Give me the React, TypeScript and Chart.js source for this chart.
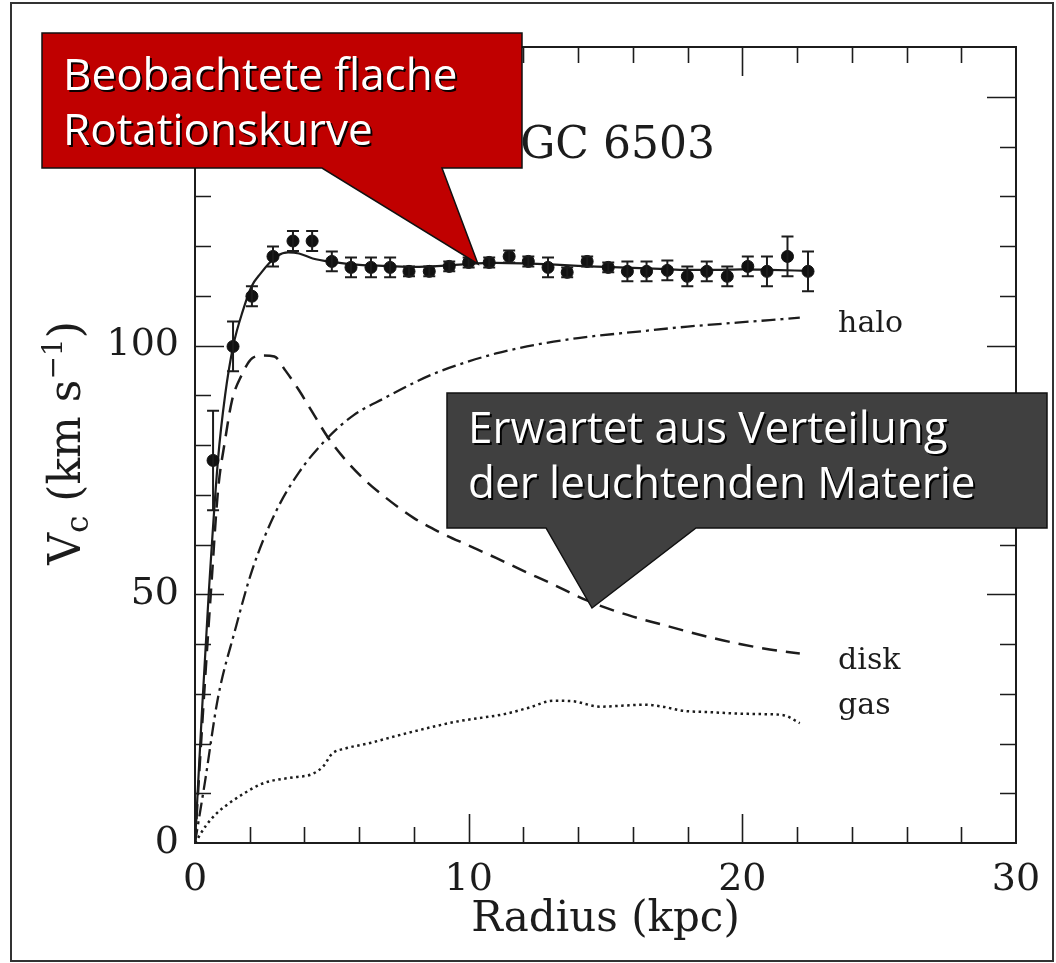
import React, { useEffect, useRef } from "react";
import { Chart, registerables } from "chart.js";

Chart.register(...registerables);

// ---- data ----
const obsRadius = [0.66, 1.39, 2.08, 2.85, 3.58, 4.28, 5.0, 5.7, 6.43, 7.13, 7.82, 8.56, 9.29, 10.0, 10.75, 11.48, 12.18, 12.9, 13.6, 14.33, 15.1, 15.8, 16.5, 17.26, 17.99, 18.7, 19.45, 20.2, 20.9, 21.65, 22.4];
const obsVc = [76.9, 99.8, 109.9, 117.9, 121.0, 121.0, 116.9, 115.7, 115.7, 115.7, 114.9, 114.9, 115.9, 116.7, 116.7, 117.9, 116.9, 115.7, 114.7, 116.9, 115.7, 114.9, 114.9, 115.1, 113.9, 114.9, 113.9, 115.9, 114.9, 117.9, 114.9];
const obsErr = [10, 5, 2, 2, 2, 2, 2, 2, 2, 2, 1, 1, 1, 1, 1, 1.2, 1, 2, 1, 1, 1, 2, 2, 2, 2, 2, 2, 2, 3, 4, 4];

const fitRadius = [0, 0.25, 0.5, 0.84, 1.1, 1.4, 1.75, 2.08, 2.4, 2.7, 3.0, 3.4, 3.8, 4.3, 5.0, 6.0, 7.0, 8.0, 9.0, 10.0, 11.0, 12.0, 13.0, 14.0, 15.0, 16.0, 17.0, 18.0, 19.0, 20.0, 21.0, 22.4];
const fitVc = [0, 26, 50, 77, 90, 100, 107, 112, 114.5, 116.5, 118, 118.7, 118.5, 117.5, 116.8, 116.2, 116, 115.8, 116, 116.4, 116.6, 116.5, 116.3, 116, 115.8, 115.6, 115.4, 115.2, 115.2, 115.3, 115.2, 115];

const diskRadius = [0, 0.3, 0.6, 0.84, 1.1, 1.35, 1.7, 2.1, 2.5, 2.9, 3.3, 3.8, 4.3, 4.86, 5.5, 6.2, 6.95, 8, 9, 10, 11, 12, 13, 14.3, 15, 16, 17, 18, 19, 20, 21, 22.1];
const diskVc = [0, 27, 52, 70.8, 81, 88.9, 94, 97.5, 98, 97.8, 95, 91, 86.5, 81.5, 77, 73, 69.5, 65.3, 62.3, 59.8, 57.3, 54.7, 52.2, 48.8, 47.3, 45.5, 44, 42.5, 41.1, 39.9, 38.9, 38.1];

const haloRadius = [0, 0.37, 0.84, 1.46, 2.08, 2.92, 3.8, 4.86, 5.8, 6.95, 8, 8.85, 10, 11, 12.5, 14, 16.2, 18, 19.8, 21, 22.1];
const haloVc = [0, 12.5, 29.2, 42.7, 54.7, 66.2, 74.5, 81.5, 86, 89.5, 92.5, 94.6, 96.8, 98.4, 100.2, 101.5, 102.8, 103.8, 104.6, 105.1, 105.6];

const gasRadius = [0, 0.4, 0.8, 1.2, 1.8, 2.4, 2.8, 3.6, 4.3, 4.7, 5.0, 5.5, 6.4, 7.2, 8.05, 8.8, 9.65, 10.5, 11.3, 12.2, 13.1, 13.8, 14.8, 15.6, 16.4, 17.1, 17.8, 18.8, 19.9, 20.8, 21.5, 22.1];
const gasVc = [0, 3.5, 6, 7.8, 10, 11.8, 12.5, 13.2, 13.9, 15.5, 17.9, 19, 20.1, 21.3, 22.5, 23.5, 24.5, 25.2, 25.9, 27.2, 28.6, 28.5, 27.4, 27.6, 27.8, 27.4, 26.6, 26.3, 26.0, 25.9, 25.7, 24.1];

const xTickValues = [0, 10, 20, 30];
const yTickValues = [0, 50, 100, 150];
const curveLabels = ["halo", "disk", "gas"];
const curveLabelAnchors = [
  [23.5, 102.8],
  [23.5, 35],
  [23.5, 26],
];
const plotTitle = "NGC 6503";
const xTitle = "Radius (kpc)";
const calloutTopLines = ["Beobachtete flache", "Rotationskurve"];
const calloutBottomLines = ["Erwartet aus Verteilung", "der leuchtenden Materie"];

const INK = "#1c1c1c";
const SERIF = "'DejaVu Serif', serif";

const pts = (xs: number[], ys: number[]) => xs.map((x, i) => ({ x, y: ys[i] }));

export default function App() {
  const ref = useRef<HTMLCanvasElement>(null);

  useEffect(() => {
    const canvas = ref.current!;

    const framePlugin = {
      id: "frameTicks",
      beforeDraw(chart: any) {
        const ctx = chart.ctx;
        ctx.save();
        ctx.fillStyle = "#ffffff";
        ctx.fillRect(0, 0, chart.width, chart.height);
        ctx.restore();
      },
      beforeDatasetsDraw(chart: any) {
        const { ctx, chartArea: a, scales } = chart;
        const xs = scales.x;
        const ys = scales.y;
        ctx.save();
        ctx.strokeStyle = INK;
        ctx.lineWidth = 2;
        ctx.strokeRect(a.left, a.top, a.right - a.left, a.bottom - a.top);
        ctx.lineWidth = 1.6;
        ctx.beginPath();
        for (let v = 2; v < 30; v += 2) {
          const px = Math.round(xs.getPixelForValue(v)) + 0.5;
          const len = v % 10 === 0 ? 29 : 16;
          ctx.moveTo(px, a.bottom);
          ctx.lineTo(px, a.bottom - len);
          ctx.moveTo(px, a.top);
          ctx.lineTo(px, a.top + len);
        }
        for (let v = 10; v < 160; v += 10) {
          const py = Math.round(ys.getPixelForValue(v)) + 0.5;
          const len = v % 50 === 0 ? 29 : 16;
          ctx.moveTo(a.left, py);
          ctx.lineTo(a.left + len, py);
          ctx.moveTo(a.right, py);
          ctx.lineTo(a.right - len, py);
        }
        ctx.stroke();

        // title inside plot
        ctx.fillStyle = INK;
        ctx.font = `44px ${SERIF}`;
        ctx.textAlign = "right";
        ctx.textBaseline = "alphabetic";
        ctx.fillText(plotTitle, 715, 158);

        // curve labels
        ctx.font = `30px ${SERIF}`;
        ctx.textAlign = "left";
        curveLabels.forEach((t, i) => {
          const [vx, vy] = curveLabelAnchors[i];
          ctx.fillText(t, xs.getPixelForValue(vx), ys.getPixelForValue(vy));
        });
        ctx.restore();
      },
      afterDatasetsDraw(chart: any) {
        const { ctx, scales } = chart;
        const xs = scales.x;
        const ys = scales.y;
        ctx.save();
        ctx.strokeStyle = INK;
        ctx.lineWidth = 2;
        ctx.beginPath();
        obsRadius.forEach((r, i) => {
          const px = xs.getPixelForValue(r);
          const top = ys.getPixelForValue(obsVc[i] + obsErr[i]);
          const bot = ys.getPixelForValue(obsVc[i] - obsErr[i]);
          ctx.moveTo(px, top);
          ctx.lineTo(px, bot);
          ctx.moveTo(px - 6, top);
          ctx.lineTo(px + 6, top);
          ctx.moveTo(px - 6, bot);
          ctx.lineTo(px + 6, bot);
        });
        ctx.stroke();
        ctx.restore();
      },
      afterDraw(chart: any) {
        const ctx = chart.ctx;
        ctx.save();
        // y axis title with subscript / superscript
        ctx.translate(80, 443);
        ctx.rotate(-Math.PI / 2);
        ctx.fillStyle = INK;
        ctx.textBaseline = "alphabetic";
        ctx.textAlign = "left";
        const parts: [string, number, number][] = [
          ["V", 44, 0],
          ["c", 31, 8],
          [" (km s", 44, 0],
          ["\u22121", 28, -18],
          [")", 44, 0],
        ];
        let total = 0;
        parts.forEach(([t, s]) => {
          ctx.font = `${s}px ${SERIF}`;
          total += ctx.measureText(t).width;
        });
        let cx = -total / 2;
        parts.forEach(([t, s, dy]) => {
          ctx.font = `${s}px ${SERIF}`;
          ctx.fillText(t, cx, dy);
          cx += ctx.measureText(t).width;
        });
        ctx.restore();

        const callout = (
          L: number, T: number, R: number, B: number,
          b1: number, b2: number, tx: number, ty: number,
          fill: string, lines: string[], textX: number, base0: number
        ) => {
          ctx.save();
          ctx.beginPath();
          ctx.moveTo(L, T);
          ctx.lineTo(R, T);
          ctx.lineTo(R, B);
          ctx.lineTo(b2, B);
          ctx.lineTo(tx, ty);
          ctx.lineTo(b1, B);
          ctx.lineTo(L, B);
          ctx.closePath();
          ctx.fillStyle = fill;
          ctx.fill();
          ctx.strokeStyle = "#111";
          ctx.lineWidth = 1.5;
          ctx.stroke();
          ctx.font = "44px 'Open Sans', sans-serif";
          ctx.textAlign = "left";
          ctx.textBaseline = "alphabetic";
          ctx.shadowColor = "rgba(0,0,0,0.95)";
          ctx.shadowOffsetX = 2;
          ctx.shadowOffsetY = 2;
          ctx.shadowBlur = 0;
          ctx.fillStyle = "#ffffff";
          lines.forEach((ln, i) => ctx.fillText(ln, textX, base0 + i * 55));
          ctx.restore();
        };
        callout(42, 33, 522, 168, 322, 442, 478, 264, "#c00000", calloutTopLines, 63, 90);
        callout(447, 393, 1047, 528, 546, 696, 592, 608, "#404040", calloutBottomLines, 468, 443);

        // outer frame
        ctx.save();
        ctx.strokeStyle = "#333";
        ctx.lineWidth = 2;
        ctx.strokeRect(11, 3, 1042, 958);
        ctx.restore();
      },
    };

    const line = (d: { x: number; y: number }[], dash: number[], width: number) => ({
      data: d,
      showLine: true,
      pointRadius: 0,
      borderColor: INK,
      borderWidth: width,
      borderDash: dash,
      cubicInterpolationMode: "monotone" as const,
      fill: false,
    });

    const chart = new Chart(canvas, {
      type: "scatter",
      data: {
        datasets: [
          {
            label: "observed",
            data: pts(obsRadius, obsVc),
            pointRadius: 6,
            pointBackgroundColor: "#111",
            pointBorderColor: "#111",
            showLine: false,
          } as any,
          { label: "fit", ...line(pts(fitRadius, fitVc), [], 2.2) },
          { label: "disk", ...line(pts(diskRadius, diskVc), [15, 9], 2.5) },
          { label: "halo", ...line(pts(haloRadius, haloVc), [14, 5, 3, 5], 2.3) },
          { label: "gas", ...line(pts(gasRadius, gasVc), [2.5, 3.5], 2.5) },
        ],
      },
      options: {
        responsive: false,
        animation: false,
        devicePixelRatio: 1,
        events: [],
        layout: { padding: { top: 47, right: 40, left: 0, bottom: 0 } },
        plugins: { legend: { display: false }, tooltip: { enabled: false } },
        scales: {
          x: {
            type: "linear",
            min: 0,
            max: 30,
            grid: { display: false, drawTicks: false },
            border: { display: false },
            afterBuildTicks: (s: any) => {
              s.ticks = xTickValues.map((v) => ({ value: v }));
            },
            ticks: {
              font: { family: SERIF, size: 38 },
              color: INK,
              padding: 14,
              maxRotation: 0,
              autoSkip: false,
            },
            title: {
              display: true,
              text: xTitle,
              color: INK,
              font: { family: SERIF, size: 42 },
              padding: { top: 0, bottom: 18 },
            },
            afterFit: (s: any) => {
              s.height = 120;
            },
          },
          y: {
            type: "linear",
            min: 0,
            max: 160,
            grid: { display: false, drawTicks: false },
            border: { display: false },
            afterBuildTicks: (s: any) => {
              s.ticks = yTickValues.map((v) => ({ value: v }));
            },
            ticks: {
              font: { family: SERIF, size: 38 },
              color: INK,
              padding: 16,
              autoSkip: false,
            },
            afterFit: (s: any) => {
              s.width = 195;
            },
          },
        },
      },
      plugins: [framePlugin],
    });
    return () => chart.destroy();
  }, []);

  return (
    <div style={{ position: "absolute", left: 0, top: 0, width: 1056, height: 963 }}>
      <canvas ref={ref} width={1056} height={963} style={{ display: "block" }} />
    </div>
  );
}
